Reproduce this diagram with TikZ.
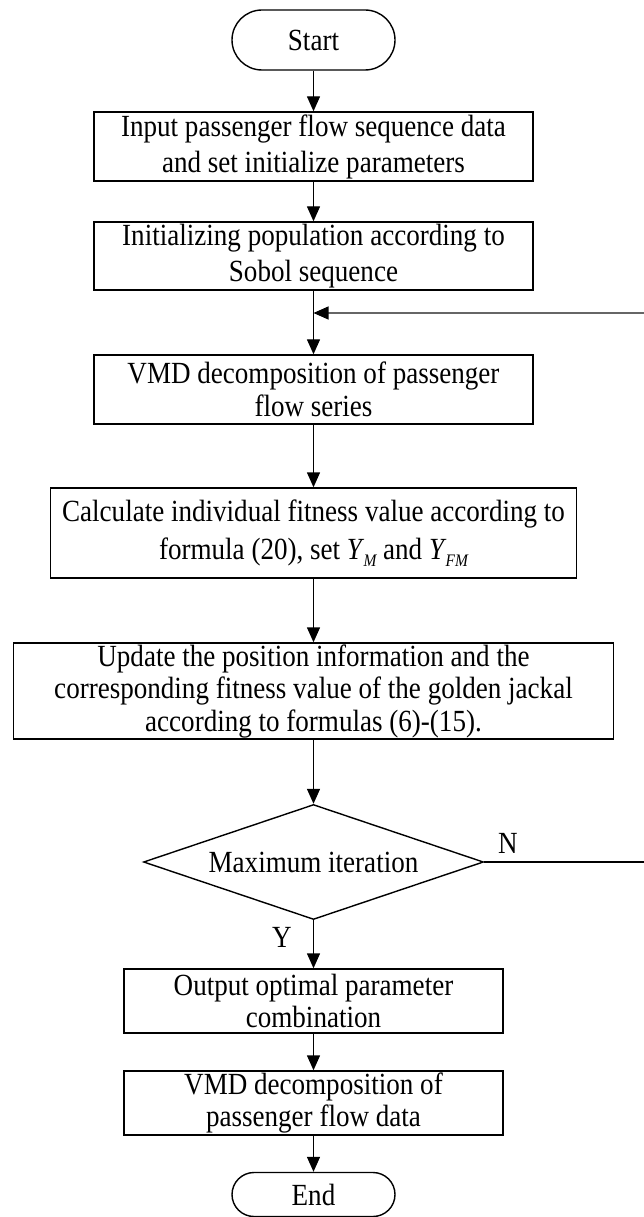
\documentclass[tikz,border=0pt]{standalone}
\usepackage{fontspec}
\setmainfont[FakeStretch=0.88]{Liberation Serif}
\usetikzlibrary{shapes.geometric,arrows.meta}
\newcommand{\ysub}[1]{\textit{Y}\kern-0.5pt\raisebox{-0.5ex}{\fontsize{10pt}{10pt}\selectfont\itshape #1}}
\tikzset{
    every node/.style={font=\fontsize{17.5pt}{18.5pt}\selectfont, align=center,
    	inner sep=0pt}
}
\tikzset{
    procbox/.style={rectangle, draw, line width=0.8pt, minimum height=1.38cm},
    termbox/.style={rectangle, draw, line width=0.8pt, rounded corners=0.6cm,
    	minimum width=3.26cm, minimum height=1.2cm},
    decbox/.style={diamond, draw, line width=0.8pt, aspect=3,
    	minimum width=6.8cm, minimum height=2.3cm},
    widelines/.style={font=\fontsize{17.5pt}{20.5pt}\selectfont}
}
\tikzset{
    every edge/.append style={line width=0.8pt, -{Triangle[length=0.3cm,width=0.26cm]}}
}

\begin{document}
\begin{tikzpicture}
	\useasboundingbox (0,0) rectangle (12.88cm,-24.34cm);
	\node (start) [termbox] at (6.27cm,-0.8cm) {Start};
	\node (input) [procbox, widelines, minimum width=8.78cm] at (6.27cm,-2.93cm)
		{Input passenger flow sequence data\\and set initialize parameters};
	\node (init) [procbox, widelines, minimum width=8.78cm, minimum height=1.36cm] at (6.27cm,-5.12cm)
		{Initializing population according to\\Sobol sequence};
	\coordinate (merge) at (6.27cm,-6.26cm);
	\node (vmd) [procbox, minimum width=8.78cm] at (6.27cm,-7.79cm)
		{VMD decomposition of passenger\\flow series};
	\node (fit) [procbox, font=\fontsize{17.5pt}{21.5pt}\selectfont, minimum width=10.52cm,
		minimum height=1.8cm] at (6.27cm,-10.66cm)
		{Calculate individual fitness value according to\\formula (20), set\ \ysub{M}\ and\ \ysub{FM}};
	\node (upd) [procbox, minimum width=12cm, minimum height=1.92cm] at (6.27cm,-13.82cm)
		{Update the position information and the\\corresponding fitness value of the golden jackal\\according to formulas (6)-(15).};
	\node (maxit) [decbox] at (6.27cm,-17.24cm) {Maximum iteration};
	\node (out) [procbox, minimum width=7.58cm, minimum height=1.28cm] at (6.27cm,-20.02cm)
		{Output optimal parameter\\combination};
	\node (vmdout) [procbox, minimum width=7.58cm, minimum height=1.28cm] at (6.27cm,-22.06cm)
		{VMD decomposition of\\passenger flow data};
	\node (stop) [termbox, minimum height=0.88cm, rounded corners=0.44cm] at (6.27cm,-23.89cm) {End};
	\coordinate (back) at (12.9cm,-17.24cm);
	\node (nlab) at (10.16cm,-16.86cm) {N};
	\node (ylab) at (5.64cm,-18.74cm) {Y};

	\draw (start) edge (input); \draw (input) edge (init); \draw (init) edge (vmd);
	\draw (vmd) edge (fit); \draw (fit) edge (upd); \draw (upd) edge (maxit);
	\draw (maxit) edge (out); \draw (out) edge (vmdout); \draw (vmdout) edge (stop);
	\draw [line width=0.8pt] (maxit.east) -- (back);
	\draw [line width=0.6pt, black!60, -{Triangle[length=0.3cm,width=0.26cm,color=black]}]
		(back) |- (merge);
\end{tikzpicture}
\end{document}
